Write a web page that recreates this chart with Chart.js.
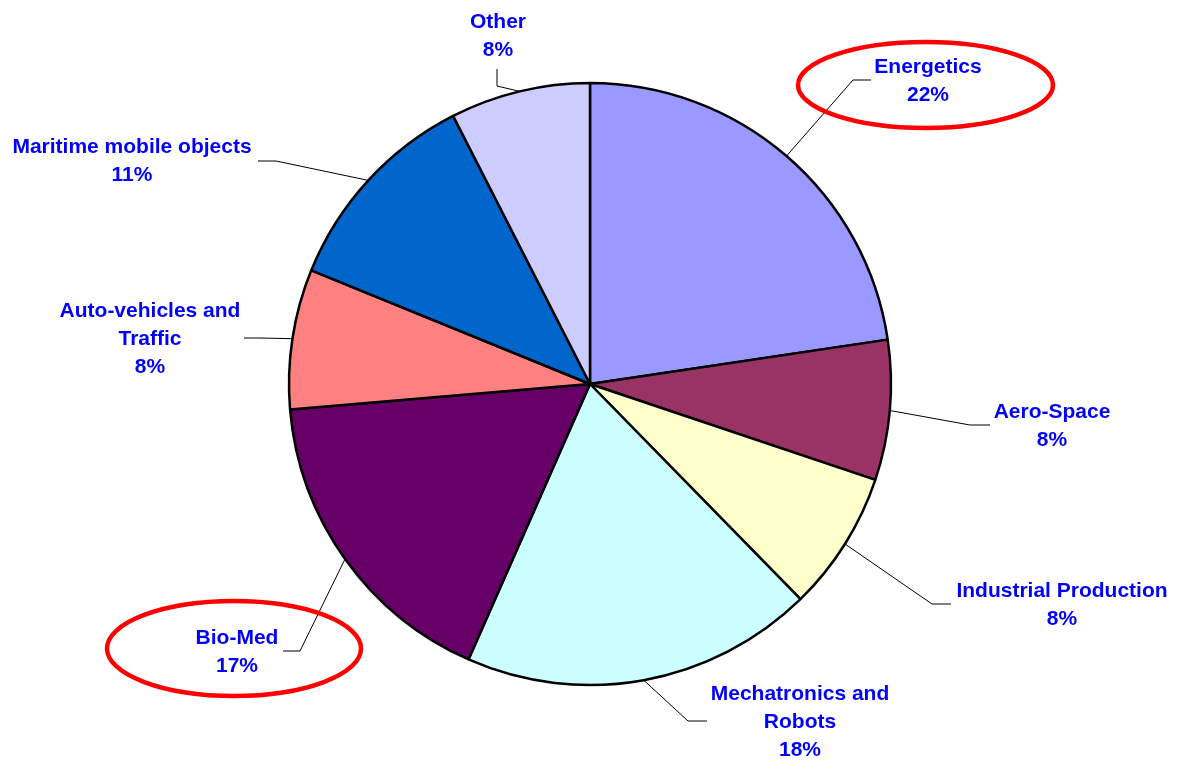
<!DOCTYPE html>
<html>
<head>
<meta charset="utf-8">
<script src="https://cdn.jsdelivr.net/npm/chart.js@4.4.1/dist/chart.umd.min.js"></script>
<style>
  body { margin: 0; background: #fff; }
</style>
</head>
<body>
<canvas id="myChart" width="1181" height="760"></canvas>
<script>
// data
const categories = ['Energetics', 'Aero-Space', 'Industrial Production', 'Mechatronics and Robots',
  'Bio-Med', 'Auto-vehicles and Traffic', 'Maritime mobile objects', 'Other'];
const nameLines = [['Energetics'], ['Aero-Space'], ['Industrial Production'], ['Mechatronics and', 'Robots'],
  ['Bio-Med'], ['Auto-vehicles and', 'Traffic'], ['Maritime mobile objects'], ['Other']];
const shares = [22.6, 7.5, 7.5, 18.9, 17.0, 7.5, 11.3, 7.5];
const percentLabels = ['22%', '8%', '8%', '18%', '17%', '8%', '11%', '8%'];
const highlighted = ['Energetics', 'Bio-Med'];

const sliceColors = ['#9999FF', '#993366', '#FFFFCC', '#CCFFFF', '#660066', '#FF8080', '#0066CC', '#CCCCFF'];

// label placement, offsets from the pie centre (px)
const labelPos = [
  { x: 338, y: -311, elbow: [263, -304], end: [281, -304] },
  { x: 462, y: 34, elbow: [380, 41], end: [400, 41] },
  { x: 472, y: 213, elbow: [342, 220], end: [361, 220] },
  { x: 210, y: 316, elbow: [98, 337], end: [117, 337] },
  { x: -353, y: 260, elbow: [-290, 267], end: [-307, 267] },
  { x: -440, y: -67, elbow: [-330, -46], end: [-346, -46] },
  { x: -458, y: -231, elbow: [-314, -223], end: [-332, -223] },
  { x: -92, y: -356, elbow: [-93, -298], end: [-93, -315] }
];
const ellipsePos = {
  'Energetics': { x: 335.5, y: -299, rx: 127.5, ry: 43 },
  'Bio-Med': { x: -356, y: 264.5, rx: 127, ry: 47.5 }
};

const pieLabels = {
  id: 'pieLabels',
  afterDatasetsDraw(chart) {
    const ctx = chart.ctx;
    const arcs = chart.getDatasetMeta(0).data;
    ctx.save();
    arcs.forEach((arc, i) => {
      const cx = arc.x, cy = arc.y;
      const mid = (arc.startAngle + arc.endAngle) / 2;
      const lp = labelPos[i];
      // leader line
      ctx.beginPath();
      ctx.strokeStyle = '#000';
      ctx.lineWidth = 1;
      ctx.moveTo(cx + Math.cos(mid) * arc.outerRadius, cy + Math.sin(mid) * arc.outerRadius);
      ctx.lineTo(cx + lp.elbow[0], cy + lp.elbow[1]);
      ctx.lineTo(cx + lp.end[0], cy + lp.end[1]);
      ctx.stroke();
      // text
      ctx.fillStyle = '#0000FF';
      ctx.font = 'bold 21px "Liberation Sans", Arial, sans-serif';
      ctx.textAlign = 'center';
      ctx.textBaseline = 'alphabetic';
      const lines = nameLines[i].concat([percentLabels[i]]);
      lines.forEach((t, k) => ctx.fillText(t, cx + lp.x, cy + lp.y + k * 28));
      // highlight ring
      const e = ellipsePos[categories[i]];
      if (highlighted.includes(categories[i]) && e) {
        ctx.beginPath();
        ctx.strokeStyle = '#FF0000';
        ctx.lineWidth = 4.5;
        ctx.ellipse(cx + e.x, cy + e.y, e.rx, e.ry, 0, 0, Math.PI * 2);
        ctx.stroke();
      }
    });
    ctx.restore();
  }
};

const ctx = document.getElementById('myChart').getContext('2d');
const myChart = new Chart(ctx, {
  type: 'pie',
  data: {
    labels: categories,
    datasets: [{
      data: shares,
      backgroundColor: sliceColors,
      borderColor: '#000',
      borderWidth: 2.5
    }]
  },
  options: {
    responsive: false,
    animation: false,
    radius: 301,
    layout: { padding: { top: 8, right: 1, left: 0, bottom: 0 } },
    plugins: {
      legend: { display: false },
      tooltip: { enabled: false }
    }
  },
  plugins: [pieLabels]
});
</script>
</body>
</html>
